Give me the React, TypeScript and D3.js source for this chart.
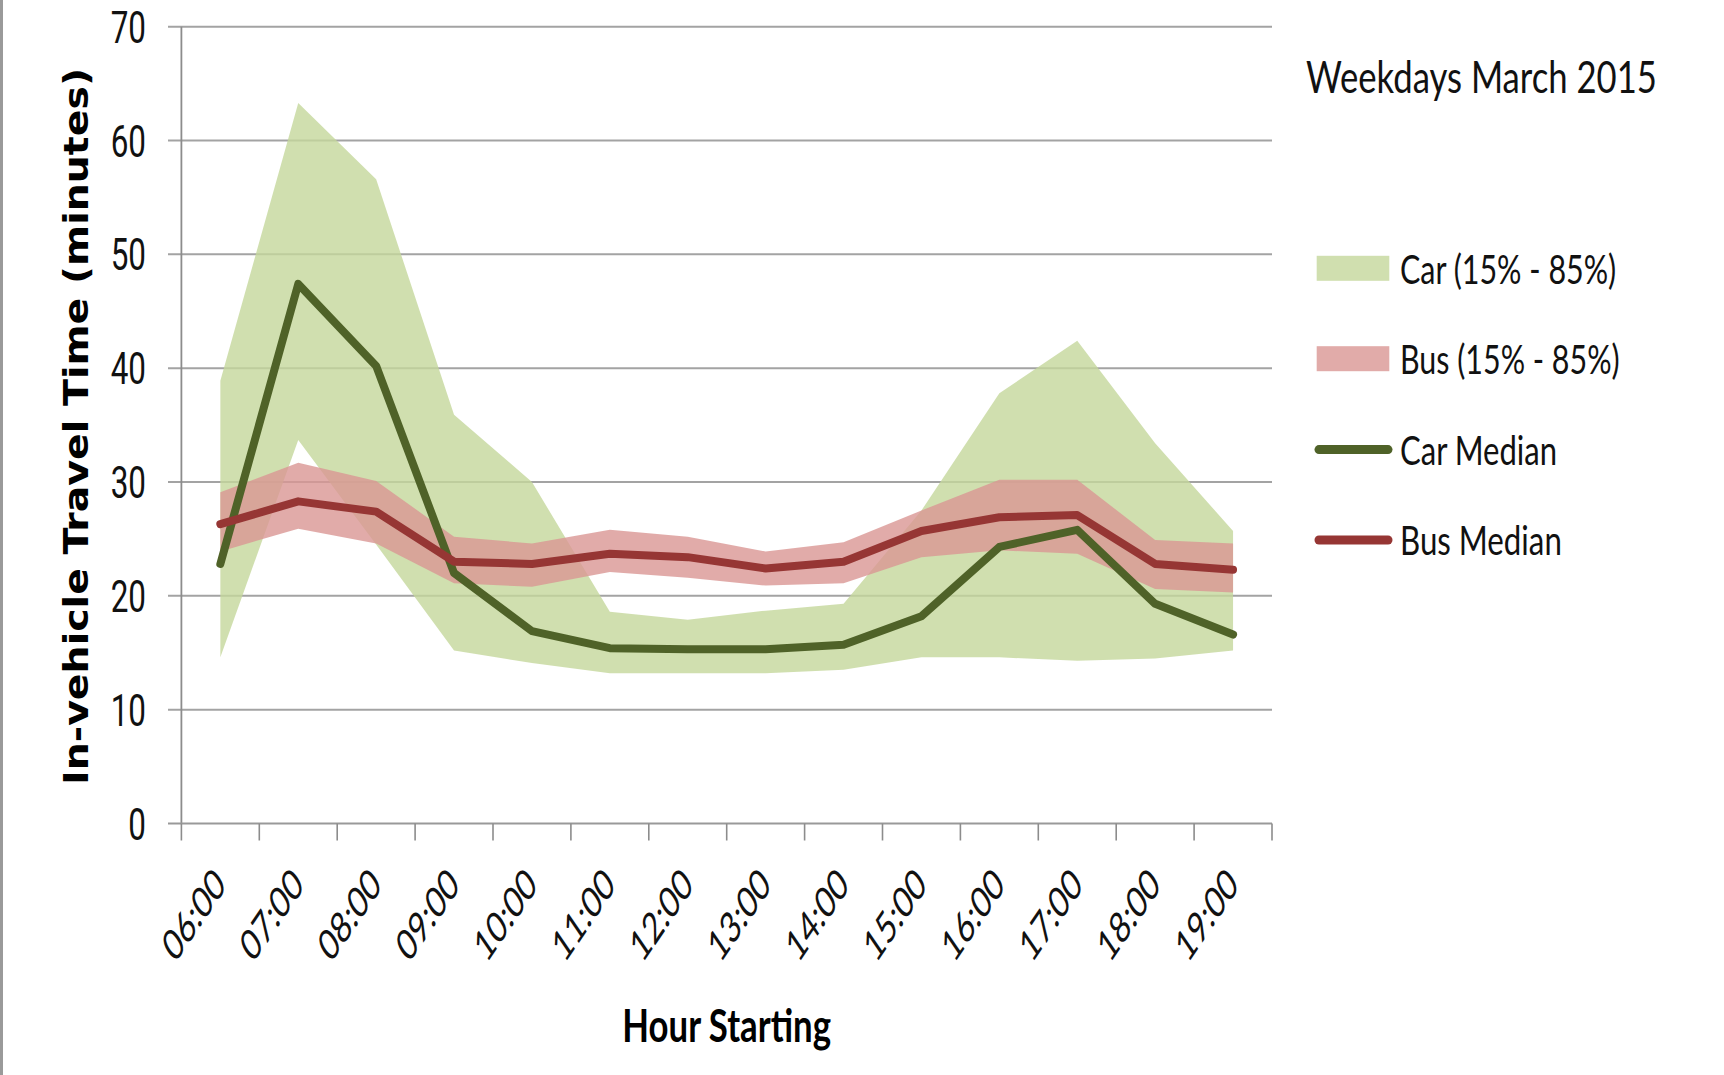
import React from 'react'
import * as d3 from 'd3'

const hours = ['06:00', '07:00', '08:00', '09:00', '10:00', '11:00', '12:00', '13:00', '14:00', '15:00', '16:00', '17:00', '18:00', '19:00']
const carLow = [14.6, 33.7, 24.5, 15.2, 14.1, 13.2, 13.2, 13.2, 13.5, 14.6, 14.6, 14.3, 14.5, 15.2]
const carHigh = [38.9, 63.3, 56.6, 35.9, 30.0, 18.6, 17.9, 18.7, 19.3, 27.5, 37.8, 42.4, 33.4, 25.7]
const busLow = [23.9, 25.9, 24.6, 21.1, 20.8, 22.1, 21.6, 20.9, 21.1, 23.4, 24.0, 23.7, 20.6, 20.3]
const busHigh = [29.1, 31.7, 30.1, 25.2, 24.6, 25.8, 25.2, 23.9, 24.7, 27.5, 30.2, 30.2, 24.9, 24.6]
const carMedian = [22.8, 47.4, 40.2, 22.0, 16.9, 15.4, 15.3, 15.3, 15.7, 18.2, 24.3, 25.8, 19.3, 16.6]
const busMedian = [26.3, 28.3, 27.4, 23.0, 22.8, 23.7, 23.4, 22.4, 23.0, 25.7, 26.9, 27.1, 22.8, 22.3]
const yTicks = [0, 10, 20, 30, 40, 50, 60, 70]

const legendItems = [
  { label: 'Car (15% - 85%)', kind: 'band', color: '#c4d79b', len: 318 },
  { label: 'Bus (15% - 85%)', kind: 'band', color: '#da9694', len: 323 },
  { label: 'Car Median', kind: 'line', color: '#4f6228', len: 231 },
  { label: 'Bus Median', kind: 'line', color: '#963634', len: 238 },
]

const W = 1724
const H = 1075
const SQ = 0.68 // horizontal squash of the text in the original
const font = 'Lato, "Open Sans", sans-serif'

export default function App() {
  const x = d3.scaleBand().domain(hours).range([181.4, 1272])
  const y = d3.scaleLinear().domain([0, 70]).range([823.5, 26.7])
  const cx = (i: number) => (x(hours[i]) as number) + x.bandwidth() / 2

  const band = (lo: number[], hi: number[]) =>
    d3.area<number>()
      .x((_, i) => cx(i))
      .y0((_, i) => y(lo[i]))
      .y1((_, i) => y(hi[i]))(lo) as string

  const line = (vals: number[]) =>
    d3.line<number>()
      .x((_, i) => cx(i))
      .y(d => y(d))(vals) as string

  const [x0, x1] = x.range()
  const xTicks = hours.map(h => x(h) as number).concat([x1])

  return (
    <svg width={W} height={H} style={{ position: 'absolute', left: 0, top: 0, background: '#fff' }}>
      <rect x={0} y={0} width={3} height={H} fill="#9a9a9a" />

      {/* gridlines */}
      {yTicks.filter(t => t > 0).map(t => (
        <line key={t} x1={168} x2={x1} y1={y(t)} y2={y(t)} stroke="#a3a3a3" strokeWidth={2} />
      ))}

      {/* bands */}
      <path d={band(carLow, carHigh)} fill="#c4d79b" fillOpacity={0.8} />
      <path d={band(busLow, busHigh)} fill="#da9694" fillOpacity={0.8} />

      {/* axes */}
      <line x1={x0} x2={x0} y1={y(70)} y2={y(0)} stroke="#8c8c8c" strokeWidth={1.8} />
      <line x1={168} x2={x1} y1={y(0)} y2={y(0)} stroke="#999" strokeWidth={2.2} />
      {xTicks.map((t, i) => (
        <line key={i} x1={t} x2={t} y1={y(0)} y2={y(0) + 17} stroke="#8c8c8c" strokeWidth={1.6} />
      ))}

      {/* medians */}
      <path d={line(carMedian)} fill="none" stroke="#4f6228" strokeWidth={8} strokeLinejoin="round" strokeLinecap="round" />
      <path d={line(busMedian)} fill="none" stroke="#963634" strokeWidth={8} strokeLinejoin="round" strokeLinecap="round" />

      {/* y tick labels */}
      {yTicks.map(t => (
        <g key={t} transform={`translate(146,${y(t) + 16}) scale(${SQ},1)`}>
          <text textAnchor="end" fontFamily='Roboto, "Liberation Sans", sans-serif' fontSize={45} fill="#111"
            textLength={String(t).length * 26} lengthAdjust="spacingAndGlyphs">{t}</text>
        </g>
      ))}

      {/* x tick labels */}
      {hours.map((h, i) => (
        <g key={h} transform={`translate(${cx(i) + 7},887) scale(${SQ},1) rotate(-45)`}>
          <text textAnchor="end" fontFamily={font} fontSize={44} fill="#111" textLength={109} lengthAdjust="spacingAndGlyphs">{h}</text>
        </g>
      ))}

      {/* axis titles */}
      <text transform="translate(88,426.5) rotate(-90)" textAnchor="middle" fontFamily='"DejaVu Sans", Verdana, sans-serif'
        fontWeight="bold" fontSize={34} fill="#000" textLength={717} lengthAdjust="spacingAndGlyphs">
        In-vehicle Travel Time (minutes)
      </text>
      <g transform={`translate(${(x0 + x1) / 2},1041.7) scale(${SQ},1)`}>
        <text textAnchor="middle" fontFamily={font} fontWeight="bold" fontSize={46} fill="#000" textLength={307} lengthAdjust="spacingAndGlyphs">
          Hour Starting
        </text>
      </g>

      {/* chart title */}
      <g transform={`translate(1306,92.7) scale(${SQ},1)`}>
        <text fontFamily={font} fontSize={45} fill="#111" textLength={516} lengthAdjust="spacingAndGlyphs">Weekdays March 2015</text>
      </g>

      {/* legend */}
      {legendItems.map((d, i) => {
        const base = 283.8 + i * 90.4
        return (
          <g key={d.label}>
            {d.kind === 'band'
              ? <rect x={1316.7} y={base - 28} width={72.6} height={25} fill={d.color} fillOpacity={0.8} />
              : <line x1={1319} x2={1388} y1={base - 15} y2={base - 15} stroke={d.color} strokeWidth={9} strokeLinecap="round" />}
            <g transform={`translate(1400,${base}) scale(${SQ},1)`}>
              <text fontFamily={font} fontSize={40} fill="#111" textLength={d.len} lengthAdjust="spacingAndGlyphs">{d.label}</text>
            </g>
          </g>
        )
      })}
    </svg>
  )
}
